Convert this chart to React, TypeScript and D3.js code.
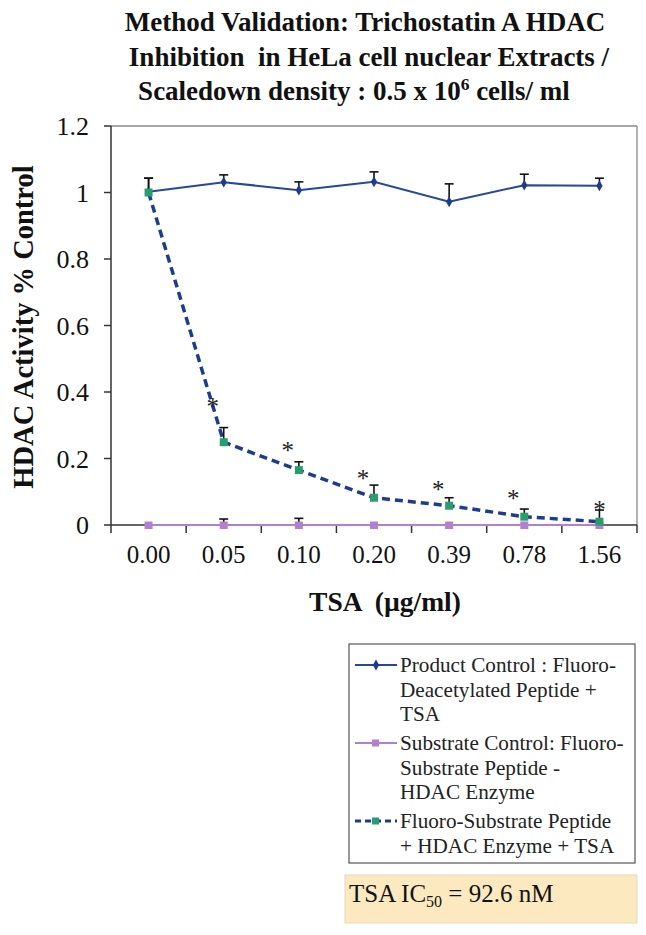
import * as d3 from "d3";

const WIDTH = 646;
const HEIGHT = 935;
const PLOT = { left: 111, right: 637, top: 126, bottom: 525 };
const FONT = "'Liberation Serif', 'Times New Roman', serif";

// TSA concentration (µg/ml)
const categories = ["0.00", "0.05", "0.10", "0.20", "0.39", "0.78", "1.56"];
const yTickValues = [0, 0.2, 0.4, 0.6, 0.8, 1, 1.2];

// Product Control : Fluoro-Deacetylated Peptide + TSA
const productValues = [1.002, 1.031, 1.007, 1.032, 0.972, 1.022, 1.02];
const productErrors = [0.041, 0.022, 0.025, 0.03, 0.054, 0.033, 0.023];

// Substrate Control: Fluoro-Substrate Peptide - HDAC Enzyme
const substrateValues = [0, 0, 0, 0, 0, 0, 0];
const substrateErrors = [0, 0.018, 0.02, 0, 0, 0, 0];

// Fluoro-Substrate Peptide + HDAC Enzyme + TSA
const fluoroValues = [1.0, 0.249, 0.165, 0.082, 0.058, 0.025, 0.01];
const fluoroErrors = [0.043, 0.044, 0.025, 0.038, 0.024, 0.023, 0.035];
// height (in activity units) of the significance asterisks
const starLevels = [null, 0.367, 0.235, 0.15, 0.118, 0.09, 0.057];

const productLabel = ["Product Control : Fluoro-", "Deacetylated Peptide +", "TSA"];
const substrateLabel = ["Substrate Control: Fluoro-", "Substrate Peptide -", "HDAC Enzyme"];
const fluoroLabel = ["Fluoro-Substrate Peptide", "+ HDAC Enzyme + TSA"];

const BLUE = "#26479b";
const NAVY = "#1d3c8c";
const GREEN = "#2a9d70";
const PURPLE = "#b47fcc";

function ErrorBars({ values, errors, x, y }) {
  return (
    <g stroke="#111" strokeWidth={1.6}>
      {values.map((v, i) => {
        if (!errors[i]) return null;
        const cx = x(categories[i]);
        const top = y(v + errors[i]);
        return (
          <g key={i}>
            <line x1={cx} x2={cx} y1={y(v)} y2={top} />
            <line x1={cx - 4.5} x2={cx + 4.5} y1={top} y2={top} />
          </g>
        );
      })}
    </g>
  );
}

export default function App() {
  const x = d3.scaleBand().domain(categories).range([PLOT.left, PLOT.right]).padding(0);
  const bw = x.bandwidth();
  const cx = (c) => x(c) + bw / 2;
  const y = d3.scaleLinear().domain([0, 1.2]).range([PLOT.bottom, PLOT.top]);

  const line = d3
    .line()
    .x((d, i) => cx(categories[i]))
    .y((d) => y(d));

  const diamond = d3.symbol(d3.symbolDiamond, 34)();

  const legendRows = [
    { label: productLabel, top: 672, kind: "product" },
    { label: substrateLabel, top: 750, kind: "substrate" },
    { label: fluoroLabel, top: 828, kind: "fluoro" },
  ];

  return (
    <svg
      width={WIDTH}
      height={HEIGHT}
      viewBox={`0 0 ${WIDTH} ${HEIGHT}`}
      style={{ position: "absolute", left: 0, top: 0, background: "#fff" }}
      fontFamily={FONT}
    >
      {/* title */}
      <g fontWeight="bold" fontSize={27} textAnchor="middle" fill="#111">
        <text x={365} y={31}>Method Validation: Trichostatin A HDAC</text>
        <text x={369} y={66} xmlSpace="preserve">Inhibition  in HeLa cell nuclear Extracts /</text>
        <text x={354} y={100}>
          Scaledown density : 0.5 x 10
          <tspan fontSize={17.5} dy={-10}>6</tspan>
          <tspan dy={10}> cells/ ml</tspan>
        </text>
      </g>

      {/* plot frame */}
      <line x1={PLOT.left} x2={PLOT.right} y1={PLOT.top} y2={PLOT.top} stroke="#8a8a8a" strokeWidth={1.5} />
      <line x1={PLOT.right} x2={PLOT.right} y1={PLOT.top} y2={PLOT.bottom} stroke="#9a9a9a" strokeWidth={1.5} />

      {/* y axis */}
      <line x1={PLOT.left} x2={PLOT.left} y1={PLOT.top} y2={PLOT.bottom} stroke="#333" strokeWidth={1.5} />
      {yTickValues.map((t) => (
        <g key={t}>
          <line x1={PLOT.left - 7} x2={PLOT.left} y1={y(t)} y2={y(t)} stroke="#333" strokeWidth={1.5} />
          <text x={89} y={y(t) + 9} textAnchor="end" fontSize={26} fill="#111">
            {String(t)}
          </text>
        </g>
      ))}

      {/* x axis */}
      <line x1={PLOT.left} x2={PLOT.right} y1={PLOT.bottom} y2={PLOT.bottom} stroke="#333" strokeWidth={1.5} />
      {[...categories.map((c) => x(c)), PLOT.right].map((tx, i) => (
        <line key={i} x1={tx} x2={tx} y1={PLOT.bottom} y2={PLOT.bottom + 8} stroke="#333" strokeWidth={1.5} />
      ))}
      {categories.map((c) => (
        <text key={c} x={cx(c)} y={563} textAnchor="middle" fontSize={25} fill="#111">
          {c}
        </text>
      ))}

      {/* axis titles */}
      <text x={385} y={611} textAnchor="middle" fontSize={27.5} fontWeight="bold" fill="#111" xmlSpace="preserve">
        {"TSA  (µg/ml)"}
      </text>
      <text
        transform={`translate(33 ${327}) rotate(-90)`}
        textAnchor="middle"
        fontSize={28.5}
        fontWeight="bold"
        fill="#111"
      >
        HDAC Activity % Control
      </text>

      {/* product control */}
      <path d={line(productValues)} fill="none" stroke={BLUE} strokeWidth={2} />
      <ErrorBars values={productValues} errors={productErrors} x={cx} y={y} />
      {productValues.map((v, i) => (
        <path key={i} d={diamond} transform={`translate(${cx(categories[i])} ${y(v)})`} fill={NAVY} />
      ))}

      {/* substrate control */}
      <path d={line(substrateValues)} fill="none" stroke={PURPLE} strokeWidth={2.2} />
      <ErrorBars values={substrateValues} errors={substrateErrors} x={cx} y={y} />
      {substrateValues.map((v, i) => (
        <rect key={i} x={cx(categories[i]) - 4} y={y(v) - 3.5} width={8} height={7.5} fill={PURPLE} />
      ))}

      {/* fluoro-substrate + enzyme + TSA */}
      <path
        d={line(fluoroValues)}
        fill="none"
        stroke={NAVY}
        strokeWidth={3.5}
        strokeDasharray="8,5"
      />
      <ErrorBars values={fluoroValues} errors={fluoroErrors} x={cx} y={y} />
      {fluoroValues.map((v, i) => (
        <rect key={i} x={cx(categories[i]) - 4} y={y(v) - 4} width={8} height={8} fill={GREEN} />
      ))}
      {starLevels.map((s, i) =>
        s == null ? null : (
          <text
            key={i}
            x={cx(categories[i]) - (i === categories.length - 1 ? 0 : 11)}
            y={y(s) + 12}
            textAnchor="middle"
            fontSize={25}
            fill="#222"
          >
            *
          </text>
        ),
      )}

      {/* legend */}
      <rect x={349} y={644} width={286} height={219} fill="#fff" stroke="#555" strokeWidth={1.2} />
      {legendRows.map((row) => {
        const sy = row.top - 7;
        return (
          <g key={row.kind}>
            {row.kind === "product" && (
              <g>
                <line x1={355} x2={397} y1={sy} y2={sy} stroke={BLUE} strokeWidth={2} />
                <path d={diamond} transform={`translate(376 ${sy})`} fill={NAVY} />
              </g>
            )}
            {row.kind === "substrate" && (
              <g>
                <line x1={355} x2={397} y1={sy} y2={sy} stroke={PURPLE} strokeWidth={2} />
                <rect x={372} y={sy - 3.5} width={7} height={7} fill={PURPLE} />
              </g>
            )}
            {row.kind === "fluoro" && (
              <g>
                <line x1={355} x2={397} y1={sy} y2={sy} stroke={NAVY} strokeWidth={3} strokeDasharray="6,4" />
                <rect x={372} y={sy - 3.5} width={7} height={7} fill={GREEN} />
              </g>
            )}
            {row.label.map((t, j) => (
              <text key={j} x={400} y={row.top + j * 24.5} fontSize={21.2} fill="#222">
                {t}
              </text>
            ))}
          </g>
        );
      })}

      {/* IC50 box */}
      <rect x={345} y={875} width={292} height={48} fill="#fce9c0" stroke="#e2d8bd" strokeWidth={1} />
      <text x={349} y={902} fontSize={25} fill="#111">
        TSA IC
        <tspan fontSize={16} dy={5}>50</tspan>
        <tspan dy={-5}> = 92.6 nM</tspan>
      </text>
    </svg>
  );
}
